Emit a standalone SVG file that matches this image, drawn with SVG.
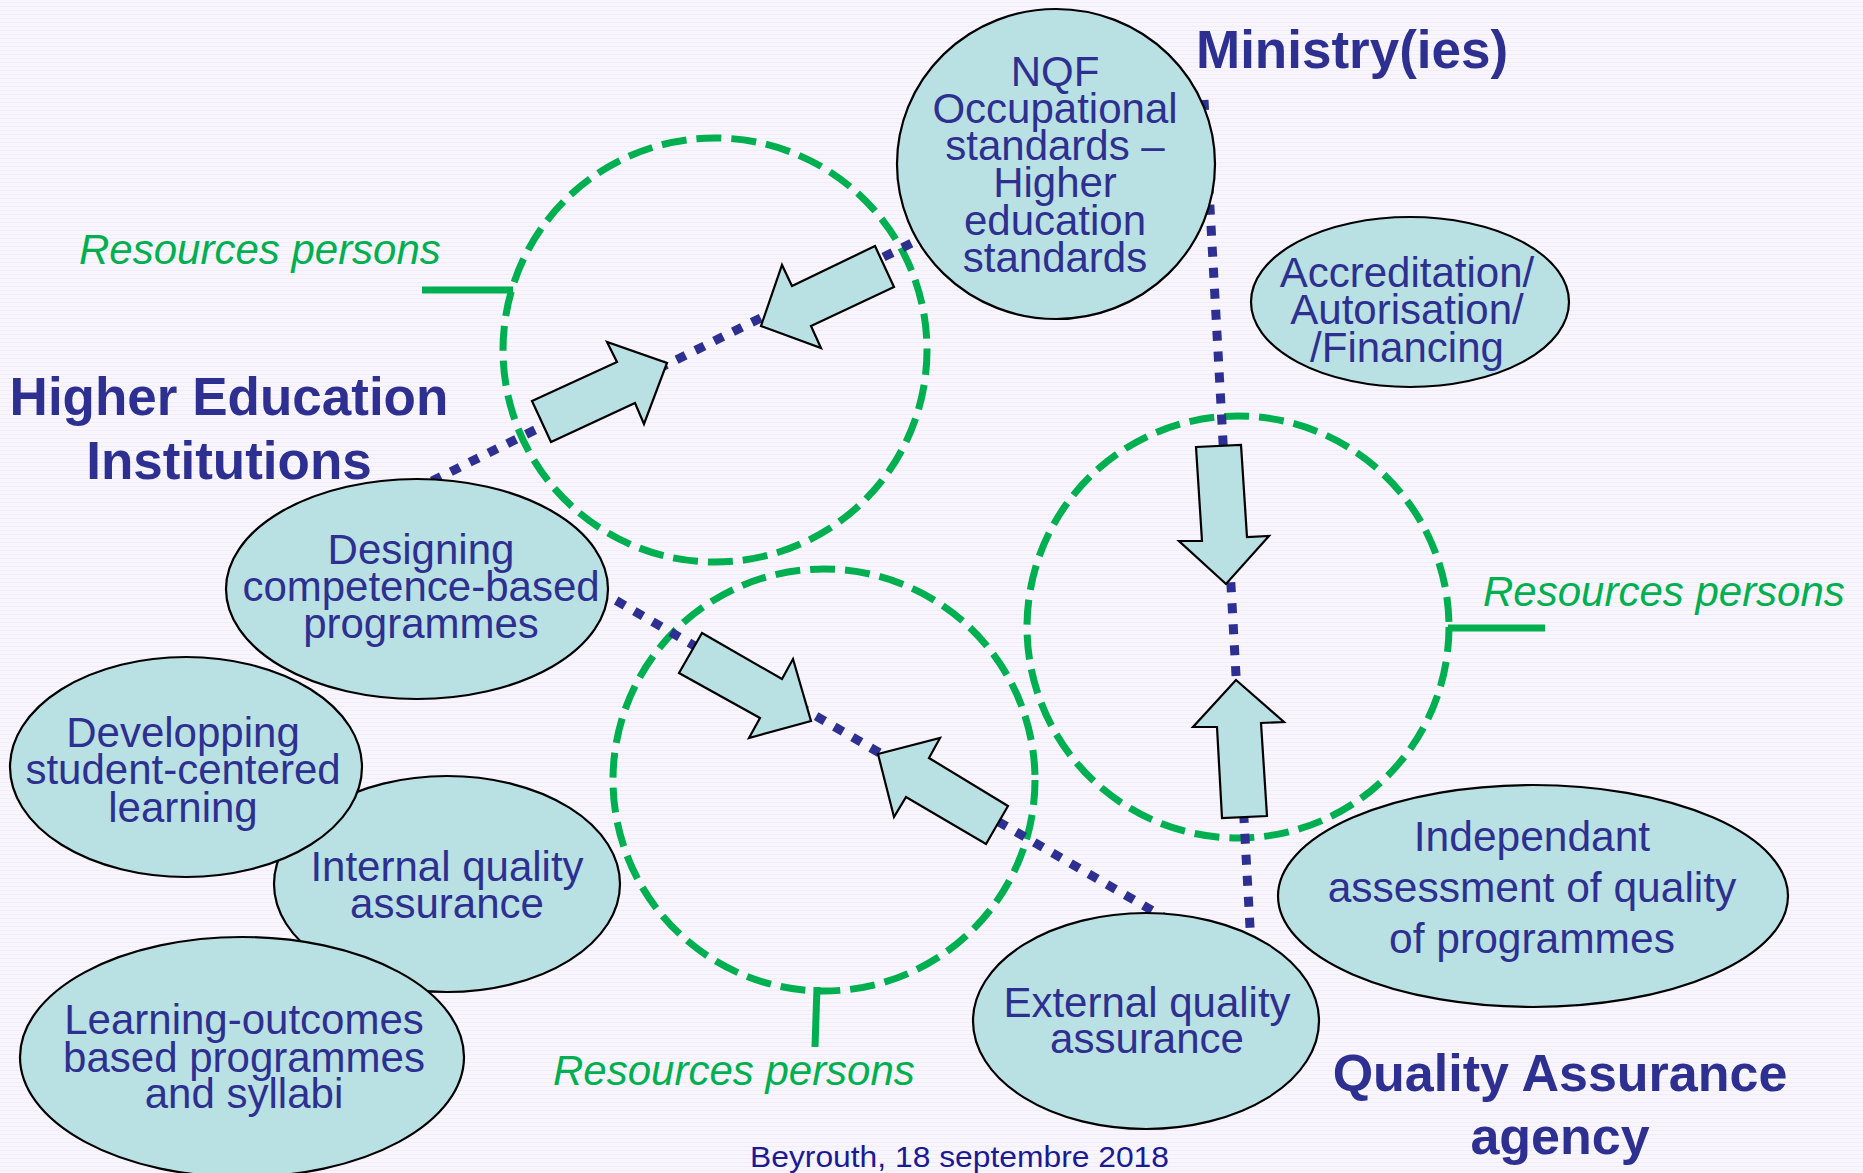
<svg xmlns="http://www.w3.org/2000/svg" width="1863" height="1173" viewBox="0 0 1863 1173">
<defs>
<pattern id="bg" width="8" height="4" patternUnits="userSpaceOnUse"><rect width="8" height="4" fill="#f8f5fd"/><rect y="2" width="8" height="1" fill="#f1edf9"/></pattern>
<style>
.node ellipse{fill:#b9e0e2;stroke:#000;stroke-width:2.2}
.nt{font-family:"Liberation Sans",Arial,sans-serif;font-size:42px;fill:#2e3091;text-anchor:middle}
.hd{font-family:"Liberation Sans",Arial,sans-serif;font-size:53px;font-weight:bold;fill:#2e3091}
.rp{font-family:"Liberation Sans",Arial,sans-serif;font-size:42px;font-style:italic;fill:#00b050}
.ring{fill:none;stroke:#00b050;stroke-width:7;stroke-dasharray:25 10}
.tick{stroke:#00b050;stroke-width:7;fill:none}
.dot{stroke:#2e3091;stroke-width:9;stroke-dasharray:10 11;fill:none}
.arr{fill:#b9e0e2;stroke:#000;stroke-width:2.2;stroke-linejoin:miter}
</style>
</defs>
<rect width="1863" height="1173" fill="url(#bg)"/>

<g id="resources-1">
<circle class="ring" cx="715" cy="350" r="212"/>
<line class="tick" x1="422" y1="290" x2="513" y2="290"/>
<text class="rp" x="79" y="264">Resources persons</text>
</g>
<g id="resources-2">
<circle class="ring" cx="824" cy="780" r="211"/>
<line class="tick" x1="817" y1="987" x2="815" y2="1047"/>
<text class="rp" x="553" y="1085">Resources persons</text>
</g>
<g id="resources-3">
<circle class="ring" cx="1238" cy="627" r="211"/>
<line class="tick" x1="1448" y1="628" x2="1545" y2="628"/>
<text class="rp" x="1483" y="606">Resources persons</text>
</g>

<g id="connectors">
<line class="dot" x1="432" y1="481" x2="930" y2="234"/>
<line class="dot" x1="598" y1="590" x2="1165" y2="918"/>
<line class="dot" x1="1204" y1="100" x2="1251" y2="945"/>
<polygon class="arr" points="532,401 617,362 607,342 667,363 644,424 635,403 551,442"/>
<polygon class="arr" points="875,246 894,287 811,326 821,348 761,326 782,265 792,286"/>
<polygon class="arr" points="702,633 782,679 793,659 811,721 749,738 760,718 679,673"/>
<polygon class="arr" points="1008,806 929,758 940,738 878,754 894,817 906,797 986,844"/>
<polygon class="arr" points="1196,447 1241,445 1247,537 1269,536 1226,584 1179,541 1202,541"/>
<polygon class="arr" points="1236,680 1284,722 1261,723 1267,816 1222,818 1217,727 1193,727"/>
</g>

<g id="nqf" class="node">
<ellipse cx="1056" cy="164" rx="159" ry="155"/>
<text class="nt"><tspan x="1055" y="86">NQF</tspan><tspan x="1055" y="123">Occupational</tspan><tspan x="1055" y="160">standards –</tspan><tspan x="1055" y="197">Higher</tspan><tspan x="1055" y="235">education</tspan><tspan x="1055" y="272">standards</tspan></text>
</g>
<g id="accreditation" class="node">
<ellipse cx="1410" cy="302" rx="159" ry="85"/>
<text class="nt"><tspan x="1407" y="287">Accreditation/</tspan><tspan x="1407" y="324">Autorisation/</tspan><tspan x="1407" y="362">/Financing</tspan></text>
</g>
<g id="designing" class="node">
<ellipse cx="417" cy="589" rx="191" ry="110"/>
<text class="nt"><tspan x="421" y="564">Designing</tspan><tspan x="421" y="601">competence-based</tspan><tspan x="421" y="638">programmes</tspan></text>
</g>
<g id="internal-qa" class="node">
<ellipse cx="447" cy="884" rx="173" ry="108"/>
<text class="nt"><tspan x="447" y="881">Internal quality</tspan><tspan x="447" y="918">assurance</tspan></text>
</g>
<g id="developping" class="node">
<ellipse cx="186" cy="767" rx="176" ry="110"/>
<text class="nt"><tspan x="183" y="747">Developping</tspan><tspan x="183" y="784">student-centered</tspan><tspan x="183" y="822">learning</tspan></text>
</g>
<g id="learning-outcomes" class="node">
<ellipse cx="242" cy="1057" rx="222" ry="120"/>
<text class="nt"><tspan x="244" y="1034">Learning-outcomes</tspan><tspan x="244" y="1072">based programmes</tspan><tspan x="244" y="1108">and syllabi</tspan></text>
</g>
<g id="external-qa" class="node">
<ellipse cx="1146" cy="1021" rx="173" ry="108"/>
<text class="nt"><tspan x="1147" y="1017">External quality</tspan><tspan x="1147" y="1053">assurance</tspan></text>
</g>
<g id="independant" class="node">
<ellipse cx="1533" cy="896" rx="255" ry="111"/>
<text class="nt" style="font-size:42.5px"><tspan x="1532" y="851">Independant</tspan><tspan x="1532" y="902">assessment of quality</tspan><tspan x="1532" y="953">of programmes</tspan></text>
</g>

<g id="headings">
<text class="hd" x="1196" y="68">Ministry(ies)</text>
<text class="hd" text-anchor="middle"><tspan x="229" y="415">Higher Education</tspan><tspan x="229" y="479">Institutions</tspan></text>
<text class="hd" text-anchor="middle" style="font-size:52px"><tspan x="1560" y="1091">Quality Assurance</tspan><tspan x="1560" y="1154">agency</tspan></text>
</g>
<text id="footer" x="750" y="1167" textLength="419" lengthAdjust="spacingAndGlyphs" style="font-family:'Liberation Sans',Arial,sans-serif;font-size:30px;fill:#1a1a96">Beyrouth, 18 septembre 2018</text>
</svg>
